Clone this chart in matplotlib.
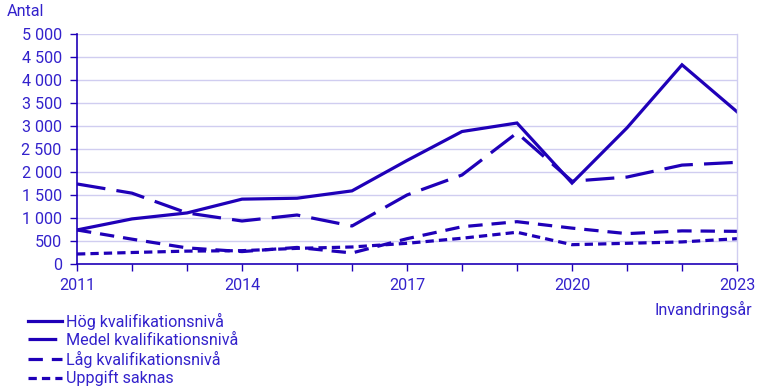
import matplotlib
matplotlib.use("Agg")
import matplotlib.pyplot as plt
from matplotlib.ticker import FuncFormatter, MultipleLocator

plt.rcParams['font.family'] = ['Roboto', 'DejaVu Sans']

years = list(range(2011, 2024))
hog = [740, 980, 1110, 1410, 1430, 1590, 2250, 2880, 3065, 1760, 2960, 4330, 3310]
medel = [1740, 1540, 1110, 935, 1065, 826, 1500, 1935, 2850, 1800, 1890, 2150, 2210]
lag = [740, 540, 350, 270, 360, 240, 550, 810, 920, 780, 660, 720, 710]
uppgift = [217, 250, 280, 290, 340, 370, 450, 560, 690, 420, 450, 480, 550]
series_names = ["Hög kvalifikationsnivå", "Medel kvalifikationsnivå",
                "Låg kvalifikationsnivå", "Uppgift saknas"]
xtick_labels = [2011, 2014, 2017, 2020, 2023]

line_col = "#1f00b8"
text_col = "#3322cc"
grid_col = "#d0cdf0"
fs = 11.6

fig = plt.figure(figsize=(7.64, 3.91), dpi=100)
ax = fig.add_axes([77/764, 1-264/391, (737-77)/764, (264-34)/391])

lw = 2.3
styles = [
    dict(linestyle='-'),
    dict(linestyle=(0, (9, 3.5))),
    dict(linestyle=(0, (4.5, 2.8))),
    dict(linestyle=(0, (2.6, 1.6))),
]
handles = []
for vals, name, st in zip([hog, medel, lag, uppgift], series_names, styles):
    l, = ax.plot(years, vals, color=line_col, lw=lw, solid_joinstyle='miter', **st)
    handles.append(l)

ax.set_xlim(2011, 2023)
ax.set_ylim(0, 5000)
ax.yaxis.set_major_locator(MultipleLocator(500))
ax.yaxis.set_major_formatter(FuncFormatter(lambda v, p: f"{int(v):,}".replace(",", " ")))
ax.set_xticks(years)
ax.set_xticklabels([str(y) if y in xtick_labels else "" for y in years])
ax.grid(axis='y', color=grid_col, lw=1)
ax.set_axisbelow(True)

ax.spines['top'].set_visible(False)
ax.spines['right'].set_color(grid_col)
ax.spines['right'].set_linewidth(1)
ax.spines['left'].set_color(line_col)
ax.spines['bottom'].set_color(line_col)
ax.spines['left'].set_linewidth(1.2)
ax.spines['bottom'].set_linewidth(1.2)
ax.tick_params(axis='both', colors=line_col, labelcolor=text_col, labelsize=fs, length=5, width=1)
ax.tick_params(axis='x', pad=5)
ax.tick_params(axis='y', pad=6)

fig.text(7/764, 1-11/391, "Antal", color=text_col, fontsize=fs, va='center', ha='left')
fig.text(752/764, 1-309/391, "Invandringsår", color=text_col, fontsize=fs, va='center', ha='right')

leg = fig.legend(handles, series_names, loc='upper left', bbox_to_anchor=(28/764, 1-313/391),
                 frameon=False, fontsize=fs, labelcolor=text_col, handlelength=2.1,
                 handletextpad=0.25, labelspacing=0.17, borderaxespad=0, borderpad=0)

fig.savefig("out.png", dpi=100)
